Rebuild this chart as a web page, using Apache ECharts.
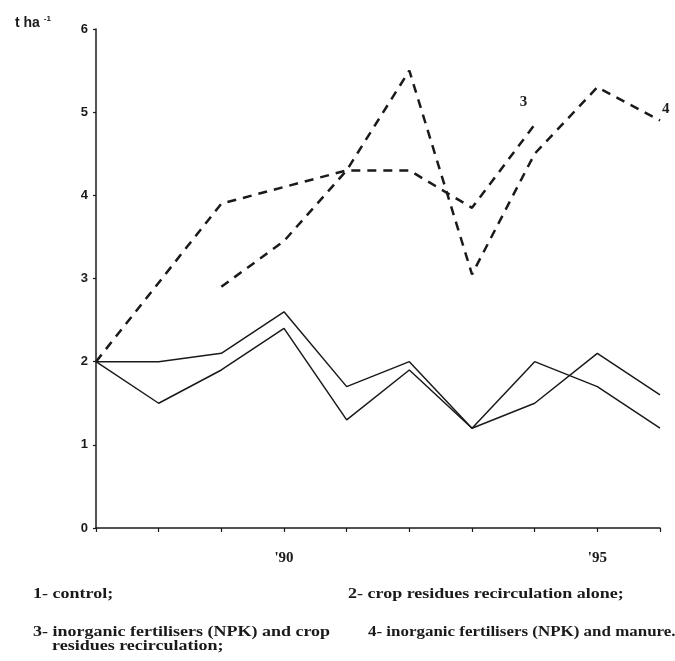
<!DOCTYPE html>
<html>
<head>
<meta charset="utf-8">
<script src="https://cdn.jsdelivr.net/npm/echarts@6/dist/echarts.min.js"></script>
<style>
html,body{margin:0;padding:0;background:#fff;}
#main{width:675px;height:661px;}
</style>
</head>
<body>
<div id="main"></div>
<script>
// years on the x axis
var years = [1987, 1988, 1989, 1990, 1991, 1992, 1993, 1994, 1995, 1996];
// yields, t ha-1
var control   = [2.0, 1.5, 1.9, 2.4, 1.3, 1.9, 1.2, 2.0, 1.7, 1.2];
var residues  = [2.0, 2.0, 2.1, 2.6, 1.7, 2.0, 1.2, 1.5, 2.1, 1.6];
var npkResid  = [2.0, 2.95, 3.9, 4.1, 4.3, 4.3, 3.85, 4.85, null, null];
var npkManure = [null, null, 2.9, 3.45, 4.3, 5.5, 3.05, 4.5, 5.3, 4.9];
var tickLabels = {1990: "'90", 1995: "'95"};
var notes = [
  '1- control;',
  '2- crop residues recirculation alone;',
  '3- inorganic fertilisers (NPK) and crop',
  'residues recirculation;',
  '4- inorganic fertilisers (NPK) and manure.'
];

function pairs(vals){
  var out = [];
  for (var i = 0; i < years.length; i++) {
    out.push([years[i], vals[i]]);
  }
  return out;
}

var ink = '#1a1a1a';
var serif = 'Liberation Serif';
var sans = 'Liberation Sans';

function solid(name, vals){
  return {
    name: name, type: 'line', data: pairs(vals), symbol: 'none',
    lineStyle: {color: ink, width: 1.5}, silent: true, animation: false
  };
}
function dashed(name, vals, tag, off){
  return {
    name: name, type: 'line', data: pairs(vals), symbol: 'none',
    connectNulls: false,
    lineStyle: {color: ink, width: 2.5, type: [9, 7]},
    endLabel: {
      show: true, formatter: tag, offset: off,
      fontFamily: serif, fontWeight: 'bold', fontSize: 15, color: ink
    },
    silent: true, animation: false
  };
}
// caption line, stretched a little like the scanned print
function note(txt, x, y, sx){
  return {type: 'text', x: x, y: y, scaleX: sx || 1.2, silent: true,
    style: {text: txt, font: 'bold 15px "Liberation Serif"', fill: ink, verticalAlign: 'middle'}};
}

var myChart = echarts.init(document.getElementById('main'));
var option = {
  backgroundColor: '#fff',
  animation: false,
  grid: {left: 96, right: 15, top: 29, bottom: 133, containLabel: false},
  xAxis: {
    type: 'value', min: 1987, max: 1996, interval: 1,
    axisLine: {lineStyle: {color: ink, width: 1.5}},
    axisTick: {show: true, length: 4, lineStyle: {color: ink, width: 1.2}},
    splitLine: {show: false},
    axisLabel: {
      margin: 23, fontFamily: serif, fontWeight: 'bold', fontSize: 15, color: ink,
      formatter: function(v){ return tickLabels[v] || ''; }
    }
  },
  yAxis: {
    type: 'value', min: 0, max: 6, interval: 1,
    axisLine: {show: true, lineStyle: {color: ink, width: 1.5}},
    axisTick: {show: true, length: 3, lineStyle: {color: ink, width: 1.2}},
    splitLine: {show: false},
    axisLabel: {margin: 8, fontFamily: sans, fontWeight: 'bold', fontSize: 13, color: ink}
  },
  series: [
    solid('1', control),
    solid('2', residues),
    dashed('3', npkResid, '3', [-23, -23]),
    dashed('4', npkManure, '4', [-6, -11])
  ],
  graphic: [
    {type: 'text', x: 15, y: 23, silent: true, style: {
      text: '{a|t ha }{b|-1}', verticalAlign: 'middle',
      rich: {
        a: {fontFamily: sans, fontWeight: 'bold', fontSize: 14, fill: ink},
        b: {fontFamily: sans, fontWeight: 'bold', fontSize: 8, fill: ink, padding: [0, 0, 8, 0]}
      }
    }},
    note(notes[0], 33, 594),
    note(notes[1], 348, 594),
    note(notes[2], 33, 632),
    note(notes[3], 52, 646),
    note(notes[4], 368, 632, 1.13)
  ]
};
myChart.setOption(option);
</script>
</body>
</html>
